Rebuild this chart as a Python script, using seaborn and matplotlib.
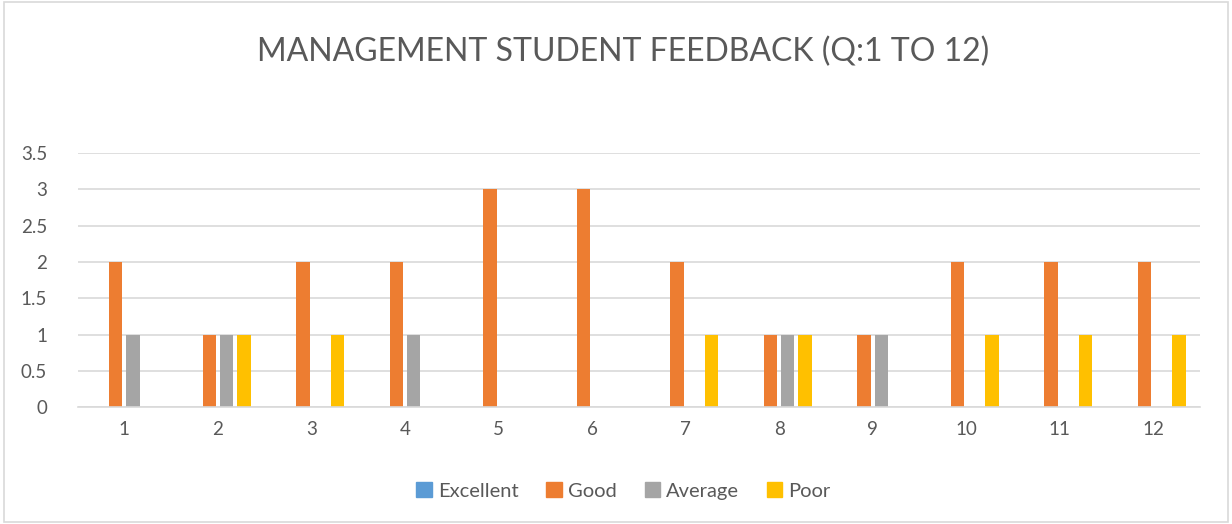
import pandas as pd
import numpy as np
import matplotlib
matplotlib.use('Agg')
import matplotlib.pyplot as plt
import seaborn as sns

# chart values
questions = [str(q) for q in range(1, 13)]
excellent = [0, 0, 0, 0, 0, 0, 0, 0, 0, 0, 0, 0]
good = [2, 1, 2, 2, 3, 3, 2, 1, 1, 2, 2, 2]
average = [1, 1, 0, 1, 0, 0, 0, 1, 1, 0, 0, 0]
poor = [0, 1, 1, 0, 0, 0, 1, 1, 0, 1, 1, 1]
series_names = ['Excellent', 'Good', 'Average', 'Poor']
series_colors = ['#5B9BD5', '#ED7D31', '#A5A5A5', '#FFC000']
y_ticks = [0, 0.5, 1, 1.5, 2, 2.5, 3, 3.5]

df = pd.DataFrame({'Question': questions, 'Excellent': excellent, 'Good': good,
                   'Average': average, 'Poor': poor})
long_df = df.melt(id_vars='Question', var_name='Rating', value_name='Count')

sns.set_style('white')
plt.rcParams['font.family'] = ['Lato', 'DejaVu Sans']

fig = plt.figure(figsize=(12.32, 5.24), dpi=100)
ax = fig.add_axes([0.063, 0.223, 0.911, 0.485])

sns.barplot(data=long_df, x='Question', y='Count', hue='Rating',
            hue_order=series_names, palette=series_colors, order=questions,
            width=0.74, gap=0.22, saturation=1, legend=False, ax=ax,
            edgecolor='none', linewidth=0)

ax.set_ylim(0, 3.5)
ax.set_yticks(y_ticks)
ax.set_yticklabels(['0', '0.5', '1', '1.5', '2', '2.5', '3', '3.5'])
ax.set_xlabel('')
ax.set_ylabel('')
ax.yaxis.grid(True, color='#D9D9D9', linewidth=1.2)
ax.set_axisbelow(True)
for side in ['top', 'right', 'left']:
    ax.spines[side].set_visible(False)
ax.spines['bottom'].set_color('#D9D9D9')
ax.spines['bottom'].set_linewidth(1.2)
ax.tick_params(axis='both', length=0, labelsize=13.5, colors='#595959', pad=10)
ax.tick_params(axis='y', pad=22)

fig.text(0.506, 0.90, 'MANAGEMENT STUDENT FEEDBACK (Q:1 TO 12)', ha='center',
         va='center', fontsize=23, color='#595959')

handles = [plt.Rectangle((0, 0), 1, 1, color=c) for c in series_colors]
fig.legend(handles, series_names, loc='center', bbox_to_anchor=(0.506, 0.063),
           ncol=4, frameon=False, fontsize=14.5, handlelength=0.75,
           handleheight=0.75, columnspacing=1.4, handletextpad=0.3,
           labelcolor='#595959')

border = plt.Rectangle((0.003, 0.004), 0.994, 0.992, transform=fig.transFigure,
                       fill=False, edgecolor='#D9D9D9', linewidth=1.2)
fig.add_artist(border)

fig.savefig('out.png', dpi=100)
